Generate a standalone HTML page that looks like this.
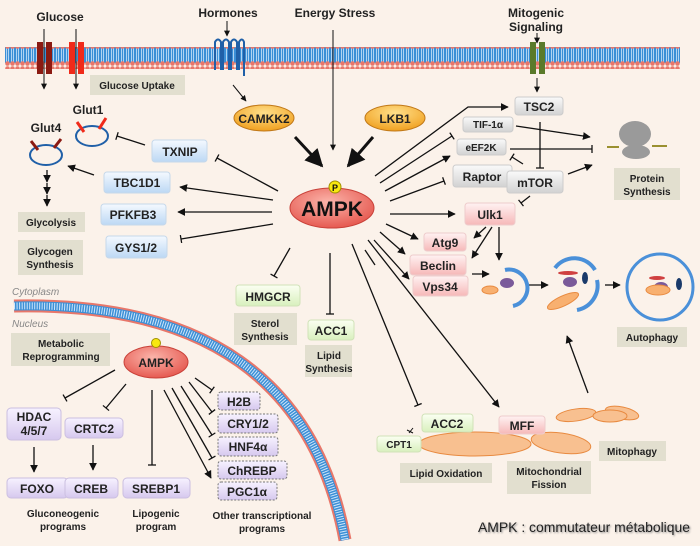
<!DOCTYPE html>
<html><head><meta charset="utf-8"><style>
body{margin:0;background:#fbf2ea;}
svg{display:block;font-family:"Liberation Sans",Arial,sans-serif;font-weight:bold;}
.bx{fill:#e2dfcf;}
.lb{font-size:10px;fill:#222;text-anchor:middle;}
.nt{font-size:12px;fill:#222;text-anchor:middle;}
</style></head><body>
<svg width="700" height="546" viewBox="0 0 700 546" xmlns="http://www.w3.org/2000/svg">
<defs>
<linearGradient id="bl" x1="0" y1="0" x2="0" y2="1"><stop offset="0" stop-color="#f4f9ff"/><stop offset="1" stop-color="#bcd8f4"/></linearGradient>
<linearGradient id="gr" x1="0" y1="0" x2="0" y2="1"><stop offset="0" stop-color="#fafafa"/><stop offset="1" stop-color="#d2d2d2"/></linearGradient>
<linearGradient id="pk" x1="0" y1="0" x2="0" y2="1"><stop offset="0" stop-color="#fff2f2"/><stop offset="1" stop-color="#f6b8b8"/></linearGradient>
<linearGradient id="gn" x1="0" y1="0" x2="0" y2="1"><stop offset="0" stop-color="#fbfff2"/><stop offset="1" stop-color="#d8f0bd"/></linearGradient>
<linearGradient id="pu" x1="0" y1="0" x2="0" y2="1"><stop offset="0" stop-color="#f7f2ff"/><stop offset="1" stop-color="#d6c8ee"/></linearGradient>
<radialGradient id="am" cx="0.45" cy="0.35" r="0.7"><stop offset="0" stop-color="#fbb4aa"/><stop offset="1" stop-color="#e4534a"/></radialGradient>
<radialGradient id="or" cx="0.5" cy="0.3" r="0.7"><stop offset="0" stop-color="#ffe08a"/><stop offset="1" stop-color="#f0a020"/></radialGradient>
<pattern id="mem" width="5" height="22" patternUnits="userSpaceOnUse"><rect x="0" y="3" width="5" height="16" fill="#3b8fd6"/><line x1="1.5" y1="4" x2="1.5" y2="18" stroke="#cfe6fa" stroke-width="0.8"/><line x1="3.5" y1="4" x2="3.5" y2="18" stroke="#cfe6fa" stroke-width="0.8"/><circle cx="2.5" cy="2.5" r="2.3" fill="#e8776a"/><circle cx="2.5" cy="19.5" r="2.3" fill="#e8776a"/></pattern>
<marker id="a" viewBox="0 0 10 10" refX="9" refY="5" markerWidth="6" markerHeight="6" orient="auto"><path d="M0,0L10,5L0,10z" fill="#111"/></marker>
<marker id="t" viewBox="0 0 4 10" refX="2" refY="5" markerWidth="4" markerHeight="8" orient="auto" markerUnits="userSpaceOnUse"><line x1="2" y1="0" x2="2" y2="10" stroke="#111" stroke-width="1.6"/></marker>
</defs>
<rect x="5" y="47" width="675" height="22" fill="url(#mem)"/>
<path d="M14,306 Q300,300 345,540" fill="none" stroke="#e8776a" stroke-width="13"/>
<path d="M14,306 Q300,300 345,540" fill="none" stroke="#3b8fd6" stroke-width="9"/>
<path d="M14,306 Q300,300 345,540" fill="none" stroke="#cfe6fa" stroke-width="7" stroke-dasharray="1 1.5"/>
<text x="12" y="295" font-size="10" font-style="italic" font-weight="normal" fill="#888">Cytoplasm</text>
<text x="12" y="327" font-size="10" font-style="italic" font-weight="normal" fill="#888">Nucleus</text>

<text x="60" y="21" class="nt">Glucose</text>
<text x="228" y="17" class="nt">Hormones</text>
<text x="335" y="17" class="nt">Energy Stress</text>
<text x="536" y="17" class="nt">Mitogenic</text>
<text x="536" y="31" class="nt">Signaling</text>
<rect x="37" y="42" width="6" height="32" fill="#8b1a12"/><rect x="46" y="42" width="6" height="32" fill="#8b1a12"/>
<rect x="69" y="42" width="6" height="32" fill="#f02a1a"/><rect x="78" y="42" width="6" height="32" fill="#f02a1a"/>
<line x1="44" y1="29" x2="44" y2="89" stroke="#111" marker-end="url(#a)"/>
<line x1="76" y1="29" x2="76" y2="89" stroke="#111" marker-end="url(#a)"/>
<rect x="90" y="75" width="95" height="20" class="bx"/><text x="137" y="89" class="lb">Glucose Uptake</text>
<path d="M215,70 V42 q3,-5 6,0 V70 M223,70 V42 q3,-5 6,0 V70 M231,70 V42 q3,-5 6,0 V70 M239,70 V42 q3,-5 5,0 V76" fill="none" stroke="#2060a8" stroke-width="2"/>
<line x1="227" y1="21" x2="227" y2="36" stroke="#111" marker-end="url(#a)"/>
<rect x="530" y="42" width="6" height="32" fill="#5a7a2a"/><rect x="539" y="42" width="6" height="32" fill="#5a7a2a"/>
<line x1="537" y1="33" x2="537" y2="43" stroke="#111" marker-end="url(#a)"/>
<line x1="537" y1="78" x2="537" y2="92" stroke="#111" marker-end="url(#a)"/>
<line x1="333" y1="30" x2="333" y2="150" stroke="#111" marker-end="url(#a)"/>
<line x1="233" y1="85" x2="246" y2="101" stroke="#111" marker-end="url(#a)"/>

<ellipse cx="264" cy="118" rx="30" ry="13" fill="url(#or)" stroke="#c07818"/><text x="264" y="123" class="nt">CAMKK2</text>
<ellipse cx="395" cy="118" rx="30" ry="13" fill="url(#or)" stroke="#c07818"/><text x="395" y="123" class="nt">LKB1</text>
<line x1="295" y1="137" x2="322" y2="166" stroke="#111" stroke-width="3" marker-end="url(#a)"/>
<line x1="373" y1="137" x2="348" y2="166" stroke="#111" stroke-width="3" marker-end="url(#a)"/>
<ellipse cx="332" cy="208" rx="42" ry="20" fill="url(#am)" stroke="#c84038"/>
<text x="332" y="216" font-size="21" text-anchor="middle" fill="#111">AMPK</text>
<circle cx="335" cy="187" r="6" fill="#f8e810" stroke="#a09000"/><text x="335" y="191" font-size="9" text-anchor="middle" fill="#111">P</text>

<g stroke="#111" stroke-width="1.3" fill="none">
<line x1="278" y1="191" x2="217" y2="158" marker-end="url(#t)"/>
<line x1="273" y1="200" x2="180" y2="187" marker-end="url(#a)"/>
<line x1="272" y1="212" x2="178" y2="212" marker-end="url(#a)"/>
<line x1="273" y1="224" x2="181" y2="239" marker-end="url(#t)"/>
<line x1="145" y1="145" x2="117" y2="136" marker-end="url(#t)"/>
<line x1="94" y1="175" x2="68" y2="166" marker-end="url(#a)"/>
<line x1="47" y1="170" x2="47" y2="182" marker-end="url(#a)"/>
<line x1="47" y1="183" x2="47" y2="194" marker-end="url(#a)"/>
<line x1="47" y1="195" x2="47" y2="206" marker-end="url(#a)"/>
</g>
<rect x="152" y="140" width="55" height="22" rx="3" fill="url(#bl)" stroke="#c6d8ea"/><text x="180" y="156" class="nt">TXNIP</text>
<rect x="104" y="172" width="66" height="21" rx="3" fill="url(#bl)" stroke="#c6d8ea"/><text x="137" y="187" class="nt">TBC1D1</text>
<rect x="101" y="204" width="65" height="21" rx="3" fill="url(#bl)" stroke="#c6d8ea"/><text x="133" y="219" class="nt">PFKFB3</text>
<rect x="106" y="236" width="61" height="22" rx="3" fill="url(#bl)" stroke="#c6d8ea"/><text x="136" y="252" class="nt">GYS1/2</text>
<text x="88" y="114" class="nt">Glut1</text>
<text x="46" y="132" class="nt">Glut4</text>
<ellipse cx="92" cy="136" rx="16" ry="10" fill="none" stroke="#2060a8" stroke-width="2"/>
<line x1="77" y1="122" x2="84" y2="132" stroke="#f02a1a" stroke-width="3"/><line x1="106" y1="118" x2="99" y2="129" stroke="#f02a1a" stroke-width="3"/>
<ellipse cx="46" cy="155" rx="16" ry="10" fill="none" stroke="#2060a8" stroke-width="2"/>
<line x1="31" y1="141" x2="38" y2="150" stroke="#8b1a12" stroke-width="3"/><line x1="61" y1="139" x2="54" y2="148" stroke="#8b1a12" stroke-width="3"/>
<rect x="18" y="212" width="67" height="20" class="bx"/><text x="51" y="226" class="lb">Glycolysis</text>
<rect x="18" y="240" width="65" height="35" class="bx"/><text x="50" y="255" class="lb">Glycogen</text><text x="50" y="268" class="lb">Synthesis</text>

<g stroke="#111" stroke-width="1.3" fill="none">
<line x1="290" y1="248" x2="274" y2="276" marker-end="url(#t)"/>
<line x1="330" y1="253" x2="330" y2="314" marker-end="url(#t)"/>
<line x1="352" y1="244" x2="418" y2="405" marker-end="url(#t)"/>
<line x1="368" y1="240" x2="499" y2="407" marker-end="url(#a)"/>
</g>
<path d="M413,428 l-4,5 m-2,-3 l6,3" stroke="#111" fill="none"/>
<rect x="236" y="285" width="64" height="21" rx="3" fill="url(#gn)" stroke="#d0e2b8"/><text x="268" y="301" class="nt">HMGCR</text>
<rect x="234" y="313" width="63" height="32" class="bx"/><text x="265" y="327" class="lb">Sterol</text><text x="265" y="340" class="lb">Synthesis</text>
<rect x="308" y="320" width="46" height="20" rx="3" fill="url(#gn)" stroke="#d0e2b8"/><text x="331" y="335" class="nt">ACC1</text>
<rect x="305" y="345" width="47" height="32" class="bx"/><text x="329" y="359" class="lb">Lipid</text><text x="329" y="372" class="lb">Synthesis</text>

<g stroke="#111" stroke-width="1.3" fill="none">
<path d="M375,176 L468,107 H508" marker-end="url(#a)"/>
<line x1="380" y1="183" x2="452" y2="136" marker-end="url(#t)"/>
<line x1="385" y1="191" x2="450" y2="156" marker-end="url(#a)"/>
<line x1="390" y1="201" x2="444" y2="181" marker-end="url(#t)"/>
<line x1="390" y1="214" x2="455" y2="214" marker-end="url(#a)"/>
<line x1="386" y1="224" x2="418" y2="239" marker-end="url(#a)"/>
<line x1="380" y1="232" x2="405" y2="254" marker-end="url(#a)"/>
<line x1="374" y1="240" x2="409" y2="279" marker-end="url(#a)"/>
<line x1="365" y1="250" x2="375" y2="265"/>
<line x1="540" y1="122" x2="540" y2="168" marker-end="url(#t)"/>
<line x1="516" y1="126" x2="590" y2="137" marker-end="url(#a)"/>
<line x1="510" y1="149" x2="592" y2="149" marker-end="url(#t)"/>
<line x1="523" y1="164" x2="512" y2="157" marker-end="url(#t)"/>
<line x1="568" y1="174" x2="592" y2="165" marker-end="url(#a)"/>
<line x1="530" y1="196" x2="521" y2="203" marker-end="url(#t)"/>
<line x1="486" y1="227" x2="474" y2="238" marker-end="url(#a)"/>
<line x1="492" y1="227" x2="472" y2="258" marker-end="url(#a)"/>
<line x1="499" y1="227" x2="499" y2="260" marker-end="url(#a)"/>
<line x1="472" y1="274" x2="489" y2="274" marker-end="url(#a)"/>
<line x1="528" y1="285" x2="548" y2="285" marker-end="url(#a)"/>
<line x1="605" y1="285" x2="620" y2="285" marker-end="url(#a)"/>
<line x1="588" y1="393" x2="567" y2="336" marker-end="url(#a)"/>
</g>
<rect x="515" y="97" width="48" height="18" rx="3" fill="url(#gr)" stroke="#ccc"/><text x="539" y="111" class="nt">TSC2</text>
<rect x="463" y="117" width="50" height="15" rx="3" fill="url(#gr)" stroke="#ccc"/><text x="488" y="128" class="lb">TIF-1α</text>
<rect x="457" y="139" width="49" height="16" rx="3" fill="url(#gr)" stroke="#ccc"/><text x="481" y="151" class="lb">eEF2K</text>
<rect x="453" y="165" width="59" height="22" rx="3" fill="url(#gr)" stroke="#ccc"/><text x="482" y="181" class="nt">Raptor</text>
<rect x="507" y="171" width="56" height="22" rx="3" fill="url(#gr)" stroke="#ccc"/><text x="535" y="187" class="nt">mTOR</text>
<rect x="465" y="203" width="50" height="22" rx="3" fill="url(#pk)" stroke="#ecc"/><text x="490" y="219" class="nt">Ulk1</text>
<rect x="424" y="233" width="42" height="18" rx="3" fill="url(#pk)" stroke="#ecc"/><text x="445" y="247" class="nt">Atg9</text>
<rect x="410" y="255" width="56" height="20" rx="3" fill="url(#pk)" stroke="#ecc"/><text x="438" y="270" class="nt">Beclin</text>
<rect x="413" y="276" width="55" height="20" rx="3" fill="url(#pk)" stroke="#ecc"/><text x="440" y="291" class="nt">Vps34</text>
<ellipse cx="635" cy="134" rx="16" ry="13" fill="#9a9a9a"/>
<ellipse cx="636" cy="152" rx="14" ry="7" fill="#9a9a9a"/>
<path d="M607,147 h12 M652,146 h15" stroke="#9a9030" stroke-width="2"/>
<rect x="614" y="168" width="66" height="32" class="bx"/><text x="647" y="182" class="lb">Protein</text><text x="647" y="195" class="lb">Synthesis</text>
<path d="M505,270 a18,18 0 0 1 8,36" stroke="#4a90d9" stroke-width="4" fill="none"/>
<ellipse cx="507" cy="283" rx="7" ry="5" fill="#7a5a9a"/>
<ellipse cx="490" cy="290" rx="8" ry="4" fill="#f8b070" stroke="#e88a40"/>
<path d="M555,268 a24,24 0 0 1 40,2 M597,280 a25,25 0 0 1 -20,30" stroke="#4a90d9" stroke-width="4" fill="none"/>
<ellipse cx="568" cy="273" rx="10" ry="2" fill="#d04040"/>
<ellipse cx="570" cy="282" rx="7" ry="5" fill="#7a5a9a"/>
<ellipse cx="585" cy="278" rx="3" ry="6" fill="#1a3a6a"/>
<ellipse cx="563" cy="301" rx="17" ry="5" transform="rotate(-25 563 301)" fill="#f8b070" stroke="#e88a40"/>
<circle cx="660" cy="287" r="33" fill="none" stroke="#4a90d9" stroke-width="3"/>
<ellipse cx="657" cy="278" rx="8" ry="2" fill="#d04040"/>
<ellipse cx="661" cy="287" rx="7" ry="5" fill="#7a5a9a"/>
<ellipse cx="679" cy="284" rx="3" ry="6" fill="#1a3a6a"/>
<ellipse cx="658" cy="290" rx="12" ry="5" fill="#f8b070" stroke="#e88a40"/>
<rect x="617" y="327" width="70" height="20" class="bx"/><text x="652" y="341" class="lb">Autophagy</text>
<ellipse cx="475" cy="444" rx="56" ry="12" fill="#f8c090" stroke="#e88a40"/>
<ellipse cx="561" cy="443" rx="30" ry="10" transform="rotate(8 561 443)" fill="#f8c090" stroke="#e88a40"/>
<ellipse cx="576" cy="415" rx="20" ry="6" transform="rotate(-8 576 415)" fill="#f8c090" stroke="#e88a40"/>
<ellipse cx="622" cy="413" rx="17" ry="6" transform="rotate(12 622 413)" fill="#f8c090" stroke="#e88a40"/>
<ellipse cx="610" cy="416" rx="17" ry="6" fill="#f8c090" stroke="#e88a40"/>
<rect x="422" y="414" width="51" height="18" rx="3" fill="url(#gn)" stroke="#d0e2b8"/><text x="447" y="428" class="nt">ACC2</text>
<rect x="499" y="416" width="46" height="18" rx="3" fill="url(#pk)" stroke="#ecc"/><text x="522" y="430" class="nt">MFF</text>
<rect x="377" y="436" width="44" height="16" rx="3" fill="url(#gn)" stroke="#d0e2b8"/><text x="399" y="448" class="lb">CPT1</text>
<rect x="400" y="463" width="92" height="20" class="bx"/><text x="446" y="477" class="lb">Lipid Oxidation</text>
<rect x="507" y="461" width="84" height="33" class="bx"/><text x="549" y="475" class="lb">Mitochondrial</text><text x="549" y="488" class="lb">Fission</text>
<rect x="599" y="441" width="67" height="20" class="bx"/><text x="632" y="455" class="lb">Mitophagy</text>

<rect x="11" y="333" width="99" height="33" class="bx"/><text x="61" y="347" class="lb">Metabolic</text><text x="61" y="360" class="lb">Reprogramming</text>
<ellipse cx="156" cy="362" rx="32" ry="16" fill="url(#am)" stroke="#c84038"/><text x="156" y="367" class="nt">AMPK</text>
<circle cx="156" cy="343" r="4.5" fill="#f8e810" stroke="#a09000"/>
<g stroke="#111" stroke-width="1.3" fill="none">
<line x1="115" y1="370" x2="65" y2="398" marker-end="url(#t)"/>
<line x1="126" y1="384" x2="106" y2="408" marker-end="url(#t)"/>
<line x1="152" y1="390" x2="152" y2="465" marker-end="url(#t)"/>
<line x1="195" y1="378" x2="212" y2="390" marker-end="url(#t)"/>
<line x1="189" y1="382" x2="212" y2="412" marker-end="url(#t)"/>
<line x1="181" y1="386" x2="212" y2="435" marker-end="url(#t)"/>
<line x1="172" y1="388" x2="212" y2="458" marker-end="url(#t)"/>
<line x1="164" y1="390" x2="211" y2="478" marker-end="url(#a)"/>
<line x1="34" y1="447" x2="34" y2="472" marker-end="url(#a)"/>
<line x1="93" y1="445" x2="93" y2="470" marker-end="url(#a)"/>
</g>
<g fill="url(#pu)" stroke="#cbbfe0">
<rect x="7" y="408" width="54" height="32" rx="4"/><rect x="65" y="418" width="58" height="20" rx="4"/>
<rect x="7" y="478" width="61" height="20" rx="4"/><rect x="65" y="478" width="53" height="20" rx="4"/><rect x="123" y="478" width="67" height="20" rx="4"/>
</g>
<g fill="url(#pu)" stroke="#777" stroke-dasharray="2 1.5">
<rect x="218" y="392" width="42" height="18" rx="3"/><rect x="218" y="414" width="60" height="19" rx="3"/><rect x="218" y="437" width="60" height="19" rx="3"/><rect x="218" y="461" width="69" height="18" rx="3"/><rect x="218" y="482" width="59" height="18" rx="3"/>
</g>
<text x="34" y="421" class="nt">HDAC</text><text x="34" y="435" class="nt">4/5/7</text>
<text x="94" y="433" class="nt">CRTC2</text>
<text x="37" y="493" class="nt">FOXO</text><text x="91" y="493" class="nt">CREB</text><text x="156" y="493" class="nt">SREBP1</text>
<text x="239" y="406" class="nt">H2B</text><text x="248" y="428" class="nt">CRY1/2</text><text x="248" y="451" class="nt">HNF4α</text><text x="252" y="475" class="nt">ChREBP</text><text x="247" y="496" class="nt">PGC1α</text>
<text x="63" y="517" class="lb">Gluconeogenic</text><text x="63" y="530" class="lb">programs</text>
<text x="156" y="517" class="lb">Lipogenic</text><text x="156" y="530" class="lb">program</text>
<text x="262" y="519" class="lb">Other transcriptional</text><text x="262" y="532" class="lb">programs</text>
<text x="478" y="532" font-size="14" font-weight="normal" fill="#222" textLength="212" lengthAdjust="spacingAndGlyphs" style="text-shadow:1px 1px 2px #888">AMPK : commutateur métabolique</text>
</svg>
</body></html>
